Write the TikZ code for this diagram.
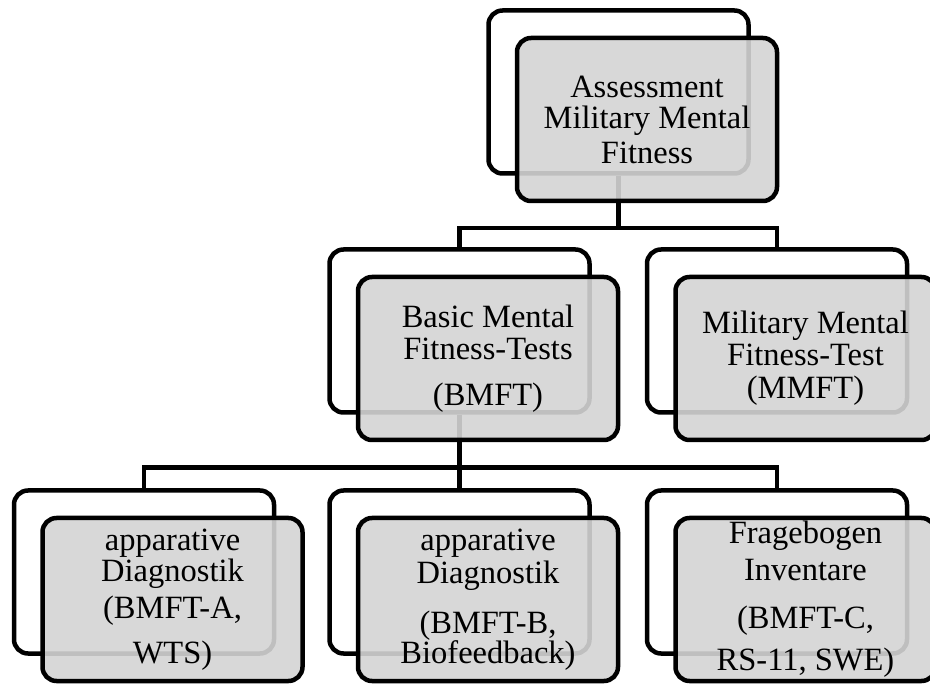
\documentclass[tikz,border=0pt]{standalone}
\usepackage{fontspec}
\setmainfont{Liberation Serif}
\begin{document}
\begin{tikzpicture}[x=1pt,y=-1pt,
  back/.style={draw=black, line width=4.5pt, fill=white, rounded corners=14pt,
    minimum width=260pt, minimum height=163pt, inner sep=0pt},
  front/.style={draw=black, line width=4.5pt, fill=black!17, fill opacity=0.9,
    text opacity=1, draw opacity=1, rounded corners=14pt,
    minimum width=260pt, minimum height=163pt, inner sep=0pt, align=center,
    font=\fontsize{32.5}{32}\selectfont},
  conn/.style={draw=black, line width=4.5pt}]
\useasboundingbox (0,0) rectangle (930,684);
\clip (0,0) rectangle (930,684);

% back frames
\node[back] (topb)  at (618.5,92) {};
\node[back] (bmftb) at (459.5,331) {};
\node[back] (mmftb) at (777,331) {};
\node[back] (ab)    at (144,572) {};
\node[back] (bb)    at (459.5,572) {};
\node[back] (cb)    at (777,572) {};

% tree connectors
\draw[conn] (topb.south) -- ++(0,52.5) -| (bmftb.north);
\draw[conn] (topb.south) -- ++(0,52.5) -| (mmftb.north);
\draw[conn] (bmftb.south) -- ++(0,53) -| (ab.north);
\draw[conn] (bmftb.south) -- ++(0,53) -| (bb.north);
\draw[conn] (bmftb.south) -- ++(0,53) -| (cb.north);

% shaded front boxes with labels
\node[front] (topf) at ([shift={(28.5,27.5)}]topb.center)
  {Assessment\\[-1pt]Military Mental\\[3pt]Fitness};
\node[front] (bmftf) at ([shift={(28.5,27.5)}]bmftb.center)
  {Basic Mental\\[0pt]Fitness-Tests\\[14pt](BMFT)};
\node[front] (mmftf) at ([shift={(28.5,27.5)}]mmftb.center)
  {Military Mental\\[0pt]Fitness-Test\\[1pt](MMFT)};
\node[front] (af) at ([shift={(28.5,27.5)}]ab.center)
  {apparative\\[-1pt]Diagnostik\\[5pt](BMFT-A,\\[13pt]WTS)};
\node[front] (bf) at ([shift={(28.5,27.5)}]bb.center)
  {apparative\\[1pt]Diagnostik\\[18pt](BMFT-B,\\[-2pt]Biofeedback)};
\node[front] (cf) at ([shift={(28.5,27.5)}]cb.center)
  {Fragebogen\\[5pt]Inventare\\[16pt](BMFT-C,\\[10pt]RS-11, SWE)};
\end{tikzpicture}
\end{document}
